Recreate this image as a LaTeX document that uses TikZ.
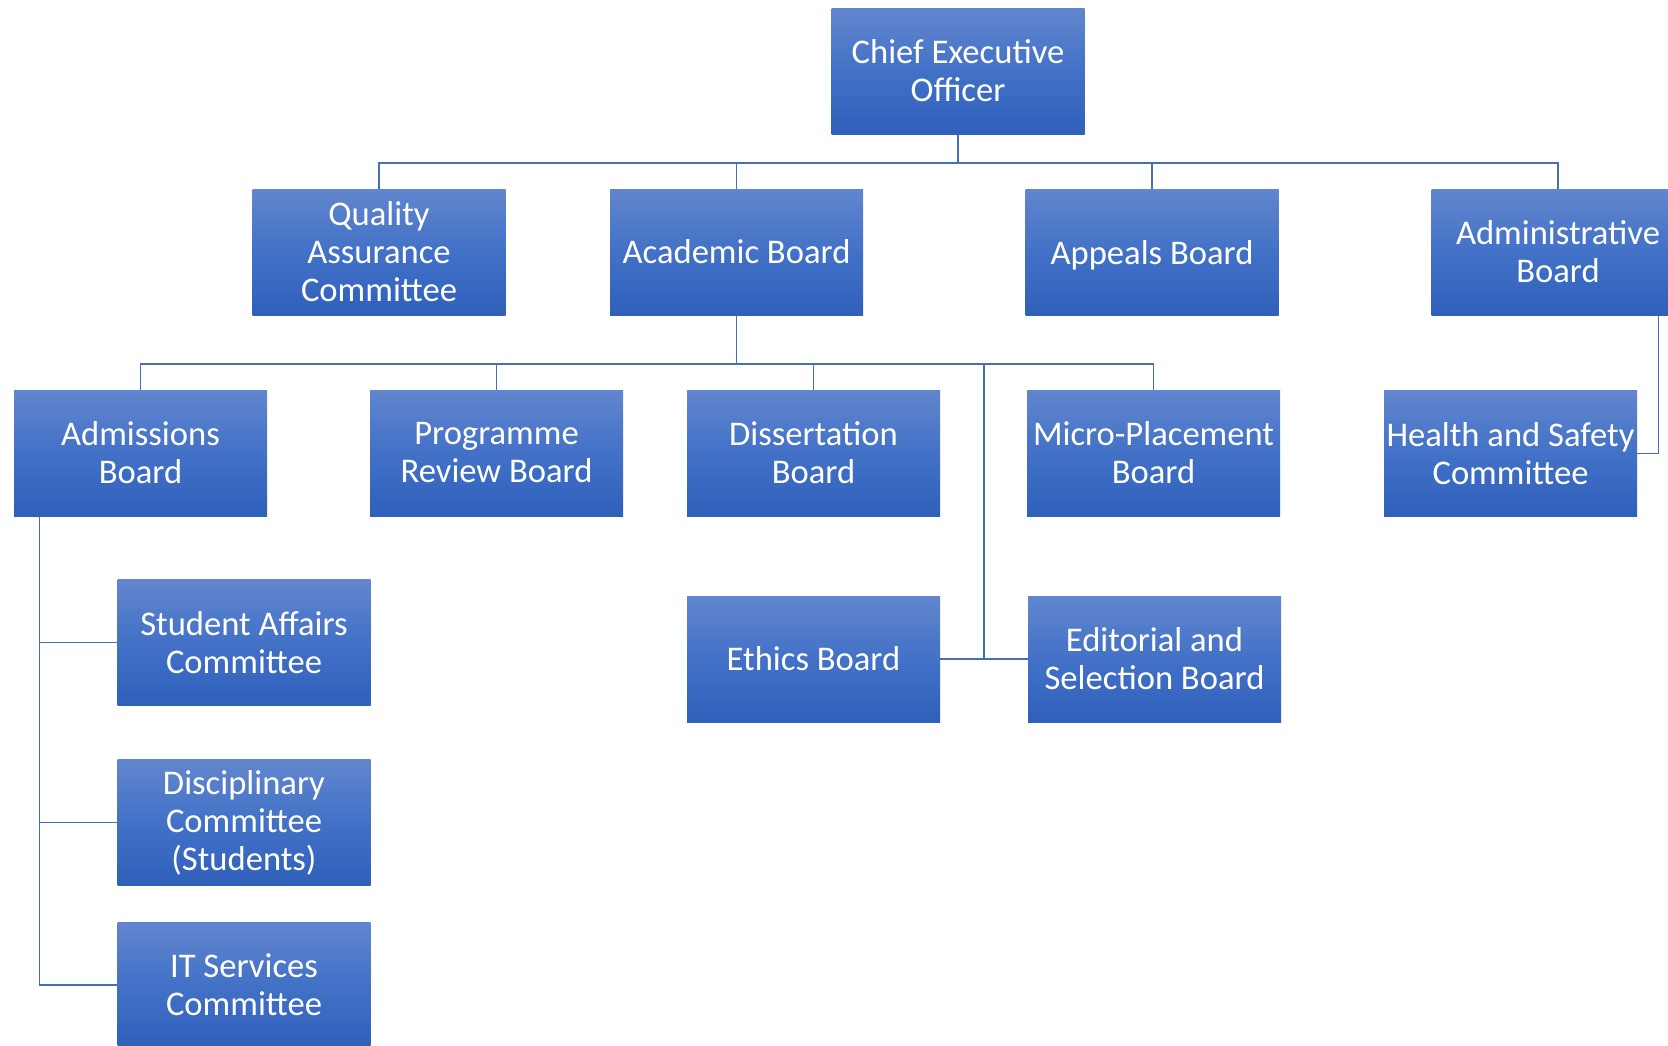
\documentclass[tikz,border=0pt]{standalone}
\usepackage{fontspec}
\setmainfont{Carlito}
\definecolor{boxtop}{RGB}{98,134,206}
\definecolor{boxmid}{RGB}{66,113,199}
\definecolor{boxbot}{RGB}{47,96,186}
\definecolor{linec}{RGB}{70,110,185}
\tikzset{
  orgbox/.style={rectangle, inner sep=0pt, minimum width=126.5pt, minimum height=63pt,
    top color=boxtop, bottom color=boxbot, middle color=boxmid, text=white, align=center,
    font=\fontsize{17.3}{19}\selectfont},
  conn/.style={draw=linec, line width=0.9pt}
}
\begin{document}
\begin{tikzpicture}[x=0.5pt,y=-0.5pt]
\clip (0,0) rectangle (1668,1045);
\fill[white] (0,0) rectangle (1668,1045);
% level 0
\node[orgbox] (ceo) at (958,71) {Chief Executive\\Officer};
% level 1
\node[orgbox] (qa) at (379,252) {Quality\\Assurance\\Committee};
\node[orgbox] (acad) at (736.5,252) {Academic Board};
\node[orgbox, text depth=0pt] (app) at (1152,252) {Appeals Board};
\node[orgbox] (admin) at (1558,252) {Administrative\\Board};
% level 2
\node[orgbox] (adm) at (140.5,453) {Admissions\\Board};
\node[orgbox] (prog) at (496.5,453) {Programme\\Review Board};
\node[orgbox] (diss) at (813.5,453) {Dissertation\\Board};
\node[orgbox] (micro) at (1153.5,453) {Micro-Placement\\Board};
\node[orgbox] (hs) at (1510.5,453.5) {Health and Safety\\Committee};
\node[orgbox] (eth) at (813.5,659) {Ethics Board};
\node[orgbox] (edit) at (1154.5,659) {Editorial and\\Selection Board};
% level 3
\node[orgbox] (sa) at (244,642.5) {Student Affairs\\Committee};
\node[orgbox] (dc) at (244,822.5) {Disciplinary\\Committee\\(Students)};
\node[orgbox] (it) at (244,985) {IT Services\\Committee};
% connectors
\coordinate (b1) at (958,163);
\draw[conn] (ceo.south) -- (b1);
\draw[conn] (qa.north) |- (b1);
\draw[conn] (acad.north) |- (b1);
\draw[conn] (app.north) |- (b1);
\draw[conn] (admin.north) |- (b1);
\coordinate (b2) at (736.5,364);
\draw[conn] (acad.south) -- (b2);
\draw[conn] (adm.north) |- (b2);
\draw[conn] (prog.north) |- (b2);
\draw[conn] (diss.north) |- (b2);
\draw[conn] (micro.north) |- (b2);
\coordinate (b3) at (984,364);
\coordinate (b4) at (984,659);
\draw[conn] (b3) -- (b4);
\draw[conn] (eth.east) -- (b4);
\draw[conn] (edit.west) -- (b4);
\coordinate (ah) at (1658.5,315);
\draw[conn] (ah) |- (hs.east);
\coordinate (al) at (39.5,516);
\draw[conn] (al) |- (sa.west);
\draw[conn] (al) |- (dc.west);
\draw[conn] (al) |- (it.west);
\end{tikzpicture}
\end{document}
